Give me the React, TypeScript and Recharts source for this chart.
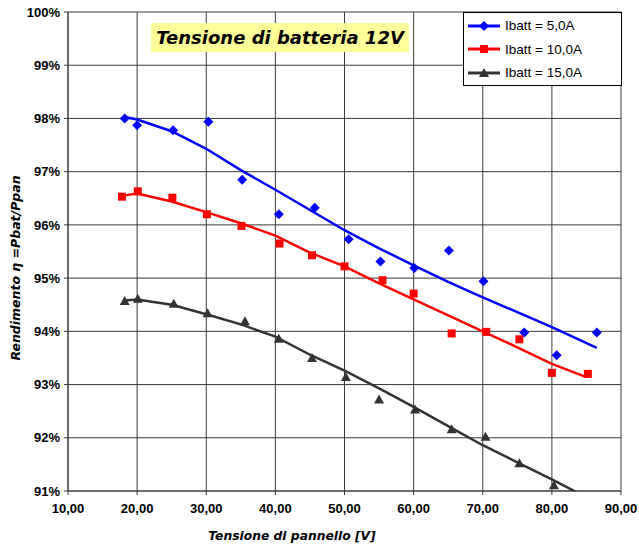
import React from 'react';
import { ScatterChart, Scatter, XAxis, YAxis, CartesianGrid } from 'recharts';

// --- measured points ---
const blueX = [18.2, 20, 25.2, 30.3, 35.2, 40.5, 45.7, 50.6, 55.2, 60.1, 65.1, 70.1, 76.0, 80.7, 86.5];
const blueY = [98.0, 97.87, 97.78, 97.94, 96.85, 96.2, 96.32, 95.73, 95.31, 95.19, 95.52, 94.94, 93.98, 93.55, 93.98];

const redX = [17.8, 20.1, 25.1, 30.1, 35.1, 40.6, 45.3, 50.0, 55.5, 60.0, 65.5, 70.5, 75.3, 80.0, 85.2];
const redY = [96.53, 96.63, 96.51, 96.2, 95.98, 95.65, 95.43, 95.22, 94.96, 94.71, 93.96, 93.99, 93.85, 93.22, 93.2];

const blackX = [18.2, 20.1, 25.3, 30.2, 35.6, 40.5, 45.3, 50.2, 55.0, 60.2, 65.5, 70.4, 75.3, 80.3];
const blackY = [94.57, 94.61, 94.52, 94.34, 94.19, 93.86, 93.5, 93.14, 92.72, 92.53, 92.16, 92.02, 91.52, 91.11];

// --- trend lines ---
const blueTrendX = [18, 20, 25, 30, 35, 40, 45, 50, 55, 60, 65, 70, 75, 80, 86.5];
const blueTrendY = [98.03, 97.98, 97.76, 97.43, 97.03, 96.66, 96.28, 95.9, 95.56, 95.24, 94.93, 94.64, 94.36, 94.08, 93.69];

const redTrendX = [18, 20, 25, 30, 35, 40, 45, 50, 55, 60, 65, 70, 75, 80, 85];
const redTrendY = [96.55, 96.59, 96.44, 96.24, 96.03, 95.8, 95.48, 95.22, 94.9, 94.6, 94.3, 94.0, 93.7, 93.39, 93.14];

const blackTrendX = [18, 20, 25, 30, 35, 40, 45, 50, 55, 60, 65, 70, 75, 80, 85];
const blackTrendY = [94.58, 94.6, 94.5, 94.32, 94.13, 93.9, 93.56, 93.26, 92.93, 92.58, 92.22, 91.86, 91.54, 91.22, 90.88];

const xTicks = [10, 20, 30, 40, 50, 60, 70, 80, 90];
const yTicks = [91, 92, 93, 94, 95, 96, 97, 98, 99, 100];

const seriesNames = ['Ibatt = 5,0A', 'Ibatt = 10,0A', 'Ibatt = 15,0A'];

const BLUE = '#0000ff';
const RED = '#ff0000';
const DARK = '#333333';

const toPts = (xs: number[], ys: number[]) => xs.map((x, i) => ({ x, y: ys[i] }));

const Diamond = ({ cx, cy, fill }: any) => (
  <path d={`M${cx},${cy - 5}L${cx + 5},${cy}L${cx},${cy + 5}L${cx - 5},${cy}Z`} fill={fill} />
);
const Square = ({ cx, cy, fill }: any) => (
  <rect x={cx - 4} y={cy - 4} width={8} height={8} fill={fill} />
);
const Triangle = ({ cx, cy, fill }: any) => (
  <path d={`M${cx},${cy - 5}L${cx + 5},${cy + 4}L${cx - 5},${cy + 4}Z`} fill={fill} />
);
const NoDot = () => <g />;

const tickFont = { fontFamily: '"Liberation Sans", Arial, sans-serif', fontWeight: 700, fontSize: 13, fill: '#000' };

const LegendBox = () => {
  const items = [
    { name: seriesNames[0], color: BLUE, Mark: Diamond },
    { name: seriesNames[1], color: RED, Mark: Square },
    { name: seriesNames[2], color: DARK, Mark: Triangle },
  ];
  return (
    <div
      style={{
        position: 'absolute', left: 463, top: 12, width: 159, height: 74, border: '1px solid #000',
        background: '#fff', boxSizing: 'border-box', paddingTop: 1,
      }}
    >
      {items.map(({ name, color, Mark }) => (
        <div key={name} style={{ display: 'flex', alignItems: 'center', height: 23.5 }}>
          <svg width={38} height={14} style={{ marginLeft: 2 }}>
            <line x1={2} y1={7} x2={34} y2={7} stroke={color} strokeWidth={3} />
            <Mark cx={18} cy={7} fill={color} />
          </svg>
          <span style={{ fontFamily: '"Liberation Sans", Arial, sans-serif', fontSize: 13.5, color: '#000', marginLeft: 1 }}>{name}</span>
        </div>
      ))}
    </div>
  );
};

export default function App() {
  return (
    <div style={{ position: 'absolute', left: 0, top: 0, width: 639, height: 547, background: '#fff' }}>
      <ScatterChart width={639} height={547} margin={{ top: 12, right: 18, bottom: 26, left: 8 }}>
        <CartesianGrid stroke="#3a3a3a" strokeWidth={1} />
        <XAxis
          type="number"
          dataKey="x"
          domain={[10, 90]}
          ticks={xTicks}
          tickFormatter={(v: number) => v.toFixed(2).replace('.', ',')}
          tick={tickFont}
          tickSize={4}
          tickMargin={9}
          axisLine={{ stroke: '#3a3a3a' }}
          tickLine={{ stroke: '#3a3a3a' }}
          height={30}
          allowDataOverflow
        />
        <YAxis
          type="number"
          dataKey="y"
          domain={[91, 100]}
          ticks={yTicks}
          tickFormatter={(v: number) => `${v}%`}
          tick={tickFont}
          tickSize={4}
          tickMargin={4}
          axisLine={{ stroke: '#3a3a3a' }}
          tickLine={{ stroke: '#3a3a3a' }}
          width={60}
          allowDataOverflow
        />
        <Scatter name="t1" data={toPts(blueTrendX, blueTrendY)} fill={BLUE} line={{ stroke: BLUE, strokeWidth: 2.5 }} shape={NoDot} isAnimationActive={false} legendType="none" />
        <Scatter name="t2" data={toPts(redTrendX, redTrendY)} fill={RED} line={{ stroke: RED, strokeWidth: 2.5 }} shape={NoDot} isAnimationActive={false} legendType="none" />
        <Scatter name="t3" data={toPts(blackTrendX, blackTrendY)} fill={DARK} line={{ stroke: DARK, strokeWidth: 2.5 }} shape={NoDot} isAnimationActive={false} legendType="none" />
        <Scatter name={seriesNames[0]} data={toPts(blueX, blueY)} fill={BLUE} shape={Diamond} isAnimationActive={false} />
        <Scatter name={seriesNames[1]} data={toPts(redX, redY)} fill={RED} shape={Square} isAnimationActive={false} />
        <Scatter name={seriesNames[2]} data={toPts(blackX, blackY)} fill={DARK} shape={Triangle} isAnimationActive={false} />
      </ScatterChart>
      <LegendBox />
      <div
        style={{
          position: 'absolute', left: 151, top: 23, width: 258, height: 29, background: '#ffff99',
          display: 'flex', alignItems: 'center', justifyContent: 'center',
          fontFamily: '"DejaVu Sans", Verdana, sans-serif', fontWeight: 700, fontStyle: 'italic', fontSize: 18, color: '#000',
        }}
      >
        Tensione di batteria 12V
      </div>
      <div
        style={{
          position: 'absolute', left: 292, top: 529, transform: 'translateX(-50%)', whiteSpace: 'nowrap',
          fontFamily: '"DejaVu Sans", Verdana, sans-serif', fontWeight: 700, fontStyle: 'italic', fontSize: 12.3, color: '#000',
        }}
      >
        Tensione di pannello [V]
      </div>
      <div
        style={{
          position: 'absolute', left: 15, top: 268, transform: 'translate(-50%, -50%) rotate(-90deg)', whiteSpace: 'nowrap',
          fontFamily: '"DejaVu Sans", Verdana, sans-serif', fontWeight: 700, fontStyle: 'italic', fontSize: 12.5, color: '#000',
        }}
      >
        Rendimento η =Pbat/Ppan
      </div>
    </div>
  );
}
